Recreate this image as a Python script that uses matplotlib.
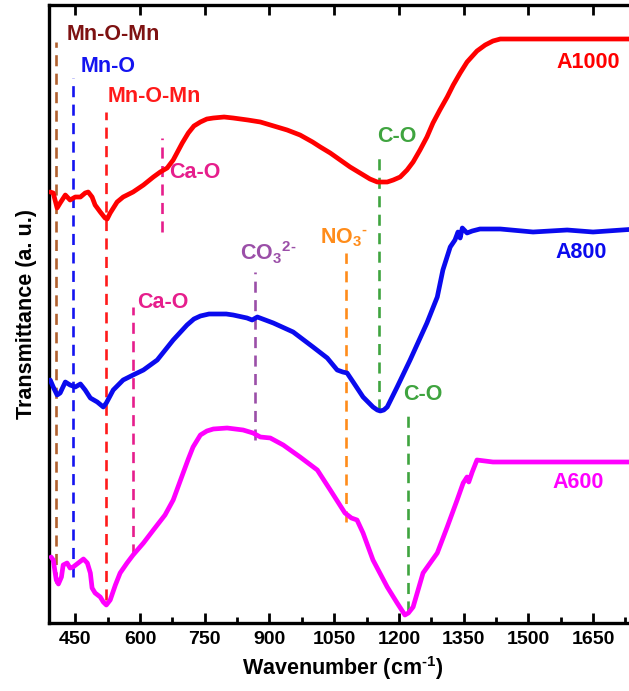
import matplotlib
matplotlib.use("Agg")
import matplotlib.pyplot as plt
from matplotlib.ticker import MultipleLocator

plt.rcParams['font.family'] = ['Liberation Sans', 'DejaVu Sans']
plt.rcParams['font.weight'] = 'bold'
plt.rcParams['mathtext.fontset'] = 'custom'
plt.rcParams['mathtext.rm'] = 'Liberation Sans:bold'
plt.rcParams['mathtext.bf'] = 'Liberation Sans:bold'
plt.rcParams['mathtext.it'] = 'Liberation Sans:bold'
plt.rcParams['mathtext.default'] = 'bf'

# ---- data (wavenumber cm-1, transmittance a.u. with offsets) ----
a1000_x = [392, 399, 408, 415, 427, 438, 450, 462, 473, 480, 489, 496, 508, 519, 524,
           531, 547, 561, 584, 608, 631, 647, 663, 677, 698, 712, 725, 740, 755, 770,
           795, 816, 850, 879, 910, 941, 971, 1000, 1018, 1041, 1064, 1087, 1110, 1133,
           1150, 1157, 1173, 1187, 1203, 1219, 1233, 1249, 1265, 1279, 1295, 1312, 1326,
           1342, 1358, 1381, 1400, 1418, 1435, 1451, 1550, 1650, 1750]
a1000_y = [431, 430, 415, 420, 428, 423, 426, 426, 430, 431, 426, 418, 411, 405, 404,
           410, 421, 426, 431, 438, 446, 451, 455, 463, 480, 490, 497, 501, 504, 505,
           506, 505, 503, 501, 497, 493, 488, 481, 476, 470, 463, 456, 450, 444,
           441, 441, 441, 443, 446, 453, 461, 473, 486, 500, 513, 526, 538,
           550, 561, 572, 578, 582, 584, 584, 584, 584, 584]

a800_x = [392, 399, 408, 415, 427, 438, 450, 462, 473, 485, 501, 515, 522, 538, 561,
          584, 608, 640, 677, 709, 725, 740, 760, 779, 800, 816, 848, 860, 872, 909,
          955, 1001, 1034, 1057, 1070, 1080, 1094, 1117, 1140, 1150, 1157, 1165, 1173,
          1196, 1226, 1265, 1289, 1302, 1319, 1330, 1337, 1342, 1347, 1358, 1370, 1388,
          1435, 1511, 1590, 1650, 1750]
a800_y = [243, 236, 228, 230, 241, 238, 236, 239, 233, 225, 221, 216, 220, 233, 243,
          248, 253, 263, 283, 298, 304, 307, 309, 309, 309, 308, 305, 303, 306, 300,
          291, 276, 265, 253, 251, 250, 241, 226, 216, 213, 212, 213, 216,
          236, 263, 300, 326, 353, 376, 383, 391, 385, 395, 390, 392, 394,
          394, 391, 393, 391, 394]

a600_x = [394, 399, 406, 411, 418, 422, 431, 438, 445, 457, 469, 478, 485, 489, 496,
          508, 515, 522, 531, 543, 554, 570, 584, 608, 631, 658, 677, 700, 712, 723,
          740, 755, 770, 802, 839, 862, 879, 902, 932, 971, 1011, 1041, 1075, 1090,
          1103, 1117, 1140, 1173, 1196, 1214, 1222, 1233, 1256, 1289, 1312, 1335, 1349,
          1358, 1362, 1370, 1381, 1418, 1497, 1600, 1750]
a600_y = [66, 63, 43, 39, 46, 58, 60, 55, 56, 60, 64, 60, 50, 35, 30,
          26, 21, 18, 23, 38, 50, 60, 68, 80, 93, 108, 123, 150, 164, 176,
          188, 192, 194, 195, 193, 190, 186, 185, 178, 166, 153, 133, 110, 105,
          103, 90, 63, 36, 20, 8, 10, 16, 50, 70, 96, 123, 140,
          146, 141, 151, 163, 161, 161, 161, 161]

# assignment lines: position, y-start, y-end, colour
mark_pos = [406, 445, 522, 651, 584, 867, 1077, 1154, 1221]
mark_ylo = [40, 46, 23, 391, 68, 183, 101, 213, 11]
mark_yhi = [581, 545, 511, 485, 316, 351, 370, 470, 213]
mark_col = ['#B0602E', '#1414F0', '#FF1A1A', '#E61E8C', '#E61E8C', '#9B4FA8',
            '#FF8C1A', '#3FA43F', '#3FA43F']

# assignment labels
lab_text = ['Mn-O-Mn', 'Mn-O', 'Mn-O-Mn', 'Ca-O', 'C-O', r'NO$_3$$^{\text{-}}$',
            r'CO$_3$$^{\text{2-}}$', 'Ca-O', 'C-O']
lab_x = [429, 462, 526, 668, 1150, 1018, 831, 594, 1209]
lab_y = [588, 556, 526, 451, 486, 385, 370, 320, 228]
lab_col = ['#7E1212', '#1414F0', '#FF1A1A', '#E61E8C', '#3FA43F', '#FF8C1A',
           '#9B4FA8', '#E61E8C', '#3FA43F']

sample_names = ['A1000', 'A800', 'A600']
sample_x = [1566, 1562, 1556]
sample_y = [560, 370, 141]
sample_col = ['#FF0000', '#0A0AEE', '#FF00FF']

xticks = [450, 600, 750, 900, 1050, 1200, 1350, 1500, 1650]

# ---- figure ----
fig = plt.figure(figsize=(6.29, 6.91), dpi=100)
ax = fig.add_axes([48.5 / 629, 1 - 623 / 691, (636.2 - 48.5) / 629, (623 - 5) / 691])

for x, lo, hi, c in zip(mark_pos, mark_ylo, mark_yhi, mark_col):
    ax.plot([x, x], [lo, hi], color=c, lw=1.9, dashes=(4.2, 2.8), zorder=1)

for xs, ys, c in zip([a1000_x, a800_x, a600_x], [a1000_y, a800_y, a600_y], sample_col):
    ax.plot(xs, ys, color=c, lw=3.4, solid_joinstyle='round', solid_capstyle='round', zorder=3)

for t, x, y, c in zip(lab_text, lab_x, lab_y, lab_col):
    ax.text(x, y, t, color=c, fontsize=15.5, fontweight='bold', ha='left', va='center', zorder=4)

for t, x, y, c in zip(sample_names, sample_x, sample_y, sample_col):
    ax.text(x, y, t, color=c, fontsize=15.5, fontweight='bold', ha='left', va='center', zorder=4)

ax.set_xlim(388, 1750)
ax.set_ylim(0, 618)
ax.set_xticks(xticks)
ax.xaxis.set_minor_locator(MultipleLocator(75))
ax.set_yticks([])
ax.tick_params(axis='x', which='major', direction='in', length=7.5, width=2.0,
               labelsize=14, top=True, pad=6)
ax.tick_params(axis='x', which='minor', direction='in', length=4.5, width=2.0,
               top=False)
for lab in ax.get_xticklabels():
    lab.set_fontweight('bold')
for s in ax.spines.values():
    s.set_linewidth(2.4)

ax.set_xlabel(r'Wavenumber (cm$^{\text{-1}}$)', fontsize=15.5, fontweight='bold', labelpad=4)
ax.set_ylabel('Transmittance (a. u.)', fontsize=15.5, fontweight='bold', labelpad=8)

fig.savefig('out.png', dpi=100, facecolor='white')
